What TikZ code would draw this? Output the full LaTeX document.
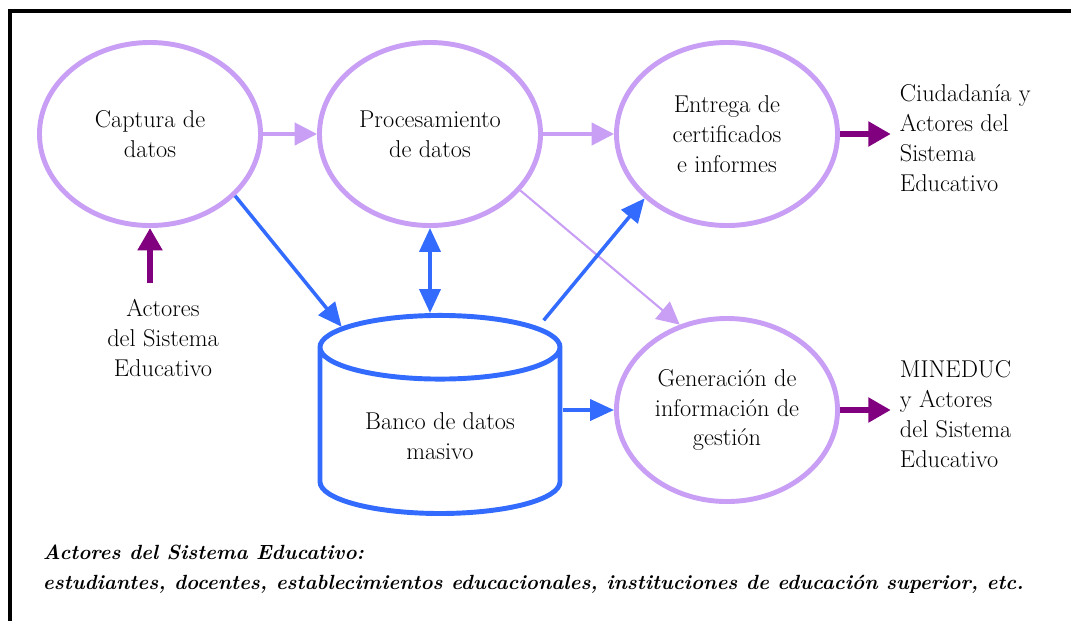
\documentclass[tikz,border=0pt]{standalone}
\usetikzlibrary{shapes.geometric}
\usetikzlibrary{arrows.meta}
\definecolor{lila}{RGB}{201,158,245}
\definecolor{azul}{RGB}{51,107,255}
\definecolor{morado}{RGB}{128,0,128}

\begin{document}
\begin{tikzpicture}[x=0.025cm, y=-0.025cm,
    every node/.style={font=\fontsize{17.3}{21.3}\selectfont, align=center},
    proceso/.style={ellipse, draw=lila, line width=3.5pt, minimum width=5.525cm, minimum height=4.575cm},
    flujo/.style={draw=lila, line width=2.2pt, -{Triangle[length=16pt, width=16pt]}},
    dato/.style={draw=azul, line width=2.5pt, -{Triangle[length=17pt, width=15pt]}},
    salida/.style={draw=morado, line width=4.5pt, -{Triangle[length=16pt, width=17pt]}}]
    \useasboundingbox (0,0) rectangle (1071,621);
    \draw[line width=2.2pt] (1071,11) -- (10,11) -- (10,621);

    % procesos
    \node[proceso] (captura) at (150,134) {Captura de\\datos};
    \node[proceso] (procesamiento) at (430,134) {Procesamiento\\de datos};
    \node[proceso] (entrega) at (727,134) {Entrega de\\certificados\\e informes};
    \node[proceso] (generacion) at (727,410) {Generación de\\información de\\gestión};
    \node[cylinder, shape border rotate=90, draw=azul, line width=3.5pt,
      minimum width=6cm, minimum height=4.95cm, aspect=0.4] (banco) at (440,436) {Banco de datos\\masivo};

    % actores
    \node (actores) at (163,338) {Actores\\del Sistema\\Educativo};
    \node[anchor=west, align=left] (ciudadania) at (895,138) {Ciudadanía y\\Actores del\\Sistema\\Educativo};
    \node[anchor=west, align=left] (mineduc) at (895,414) {MINEDUC\\y Actores\\del Sistema\\Educativo};
    \node[anchor=west, align=left, font=\fontsize{14.6}{21.3}\selectfont\bfseries\itshape] (nota) at (38,569)
      {Actores del Sistema Educativo:\\estudiantes, docentes, establecimientos educacionales, instituciones de educación superior, etc.};

    \draw[flujo] (captura.east) -- (procesamiento.west);
    \draw[flujo] (procesamiento.east) -- (entrega.west);
    \draw[flujo, line width=1.5pt] (procesamiento.-32) -- (generacion.119);
    \draw[dato] (captura.-36) -- (banco.132);
    \draw[dato, {Triangle[length=17pt, width=15pt]}-{Triangle[length=17pt, width=15pt]}] (procesamiento.south) -- (procesamiento.south |- banco.north);
    \draw[dato, shorten <=6pt] (banco.48) -- (entrega.218);
    \draw[dato] (banco.east |- generacion.west) -- (generacion.west);
    \draw[salida, shorten <=8pt] (actores.north -| captura.south) -- (captura.south);
    \draw[salida, shorten >=3pt] (entrega.east) -- (entrega.east -| ciudadania.west);
    \draw[salida, shorten >=3pt] (generacion.east) -- (generacion.east -| mineduc.west);
  \end{tikzpicture}
\end{document}
